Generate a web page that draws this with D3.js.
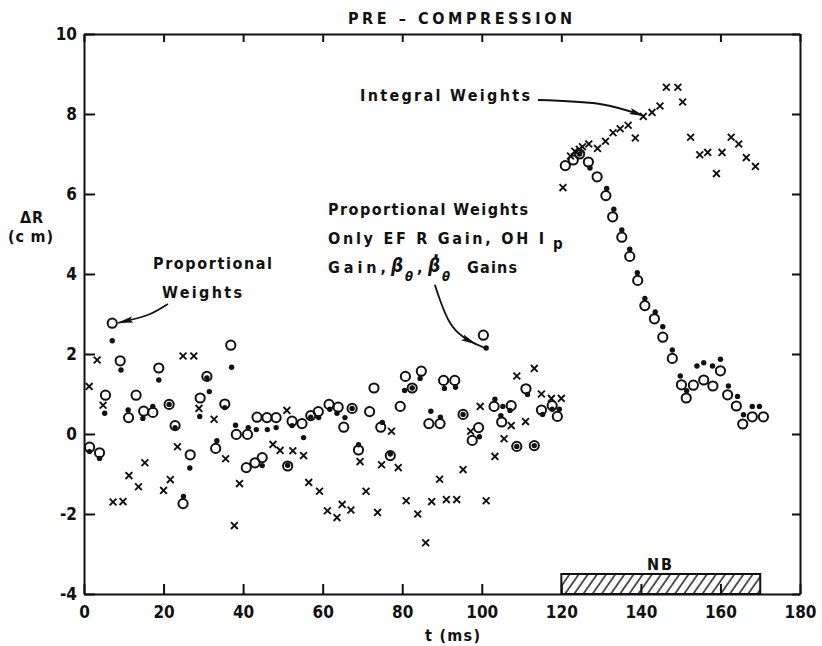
<!DOCTYPE html>
<html>
<head>
<meta charset="utf-8">
<script src="https://cdn.jsdelivr.net/npm/d3@7"></script>
<style>
  body { margin: 0; background: #fff; }
  svg { display: block; }
  text { font-family: "DejaVu Sans Condensed", "DejaVu Sans", sans-serif; font-weight: bold; fill: #111; }
</style>
</head>
<body>
<svg id="chart" width="822" height="646"></svg>
<script>
// ---- axes ----
const xTicks = [0, 20, 40, 60, 80, 100, 120, 140, 160, 180];
const xTickLabels = ["0", "20", "40", "60", "80", "100", "120", "140", "160", "180"];
const yTicks = [-4, -2, 0, 2, 4, 6, 8, 10];
const yTickLabels = ["-4", "-2", "0", "2", "4", "6", "8", "10"];

// ---- series: [t (ms), ΔR (cm)] ----
// Proportional weights (open circles)
const openCircles = [
  [1.4,-0.33],[3.9,-0.47],[5.4,0.97],[7.1,2.77],[9.1,1.83],[11.2,0.41],[13.1,0.97],[15.0,0.57],
  [17.3,0.54],[18.8,1.65],[21.4,0.74],[22.9,0.21],[24.9,-1.74],[26.7,-0.52],[29.2,0.90],[30.9,1.44],
  [33.1,-0.36],[35.4,0.75],[36.9,2.22],[38.3,-0.01],[40.8,-0.84],[41.1,-0.01],[43.0,-0.72],[43.5,0.42],
  [44.8,-0.59],[46.0,0.41],[48.3,0.41],[51.2,-0.80],[52.3,0.32],[54.8,0.26],[57.0,0.46],[58.9,0.56],
  [61.6,0.74],[63.9,0.67],[65.3,0.17],[67.4,0.64],[69.0,-0.40],[71.8,0.56],[72.9,1.15],[74.6,0.17],
  [77.0,-0.54],[79.5,0.69],[80.8,1.44],[82.5,1.15],[84.8,1.57],[86.7,0.26],[89.5,0.26],[90.4,1.34],
  [93.2,1.34],[95.3,0.49],[97.6,-0.16],[99.2,0.16],[100.4,2.47],[103.1,0.69],[105.0,0.30],[107.4,0.71],
  [108.8,-0.31],[111.1,1.13],[113.2,-0.29],[115.0,0.60],[117.7,0.71],[119.0,0.44],
  [121.0,6.71],[123.0,6.85],[124.6,7.00],[126.8,6.80],[129.0,6.43],[131.2,5.96],[132.9,5.43],[135.2,4.92],
  [137.2,4.44],[139.2,3.84],[141.0,3.21],[143.4,2.88],[145.5,2.42],[147.9,1.89],[150.2,1.23],[151.4,0.90],
  [153.2,1.22],[155.8,1.35],[158.1,1.20],[160.0,1.58],[161.8,0.98],[164.0,0.70],[165.6,0.25],[168.0,0.43],
  [170.8,0.43]
];
// Proportional weights, EF R / OH Ip / beta gains only (small dots)
const filledDots = [
  [1.4,-0.44],[3.9,-0.61],[5.2,0.52],[7.1,2.33],[9.3,1.60],[11.1,0.60],[14.8,0.39],[17.3,0.69],
  [18.8,1.35],[21.4,0.74],[22.9,0.16],[25.0,-1.56],[26.6,-0.85],[29.1,0.44],[30.9,1.40],[31.5,1.06],
  [33.4,-0.17],[35.4,0.66],[37.1,1.67],[38.1,0.22],[41.3,0.16],[43.3,0.11],[44.8,-0.79],[46.1,0.11],
  [48.3,0.16],[51.2,-0.78],[52.3,0.21],[55.2,-0.09],[57.0,0.42],[59.0,0.41],[61.8,0.62],[63.6,0.52],
  [65.6,0.41],[67.4,0.64],[69.0,-0.27],[75.0,0.29],[77.0,-0.50],[80.6,1.09],[82.5,1.15],[84.5,1.39],
  [87.2,0.57],[89.6,0.42],[90.6,1.14],[93.4,1.17],[95.3,0.49],[99.4,-0.07],[101.1,2.15],[103.3,0.87],
  [104.8,0.46],[105.3,0.69],[107.1,0.59],[108.8,-0.31],[111.5,0.99],[113.2,-0.29],[115.3,0.49],[117.7,0.62],
  [119.5,0.62],[124.6,7.00],[127.2,6.65],[131.4,6.14],[133.2,5.62],[135.2,5.10],[137.2,4.62],[139.1,4.03],
  [141.0,3.39],[143.6,3.05],[145.5,2.68],[147.9,2.10],[149.9,1.45],[151.5,1.08],[154.1,1.70],[155.8,1.78],
  [158.0,1.70],[160.0,1.87],[162.0,1.20],[164.3,0.94],[165.8,0.48],[168.0,0.69],[169.8,0.69]
];
// Integral weights (crosses)
const crosses = [
  [1.3,1.19],[3.3,1.85],[4.8,0.72],[7.3,-1.70],[9.8,-1.69],[11.3,-1.04],[13.7,-1.32],[15.3,-0.72],
  [20.0,-1.41],[21.7,-1.14],[23.5,-0.32],[24.9,1.95],[27.6,1.95],[28.9,0.64],[32.7,0.37],[35.6,-0.62],
  [37.8,-2.29],[39.1,-1.24],[47.5,-0.26],[49.3,-0.41],[51.0,0.59],[52.5,-0.42],[55.2,-0.54],[56.5,-1.21],
  [59.2,-1.43],[61.2,-1.92],[63.6,-2.09],[64.9,-1.76],[67.1,-1.90],[69.4,-0.69],[70.9,-1.43],[73.8,-1.96],
  [74.8,-0.77],[77.3,0.07],[79.0,-0.84],[81.0,-1.67],[83.9,-2.00],[85.9,-2.72],[87.4,-1.69],[89.4,-1.13],
  [91.1,-1.64],[93.7,-1.64],[95.3,-0.89],[97.2,0.07],[99.6,0.69],[101.1,-1.67],[103.3,-0.56],[105.6,-0.12],
  [107.4,0.21],[108.8,1.45],[111.0,0.31],[113.2,1.64],[115.0,1.00],[117.5,0.89],[120.0,0.89],
  [120.4,6.16],[122.3,6.95],[123.4,7.07],[124.5,7.12],[125.3,7.18],[126.9,7.25],[129.1,7.14],[131.1,7.32],
  [133.0,7.53],[134.8,7.63],[136.8,7.72],[138.6,7.40],[140.6,7.94],[142.8,8.04],[144.8,8.20],[146.4,8.67],
  [149.3,8.67],[150.5,8.30],[152.5,7.42],[154.8,6.98],[156.8,7.04],[159.0,6.51],[160.4,7.04],[162.7,7.42],
  [164.6,7.25],[166.5,6.91],[168.8,6.69]
];
// Neutral-beam injection window (ms)
const nbWindow = [120, 170];

// ---- layout ----
const svg = d3.select("#chart");
const ink = "#111";
const x = d3.scaleLinear().domain([0, 180]).range([84, 800]);
const y = d3.scaleLinear().domain([-4, 10]).range([594, 34]);

// hatch pattern for the NB bar
const defs = svg.append("defs");
const pat = defs.append("pattern")
  .attr("id", "hatch").attr("patternUnits", "userSpaceOnUse")
  .attr("width", 7.5).attr("height", 10)
  .attr("patternTransform", "rotate(35)");
pat.append("line").attr("x1", 1).attr("x2", 1).attr("y1", 0).attr("y2", 10)
  .attr("stroke", ink).attr("stroke-width", 1.4);

defs.append("marker")
  .attr("id", "arrow").attr("viewBox", "0 0 16 8")
  .attr("refX", 15).attr("refY", 4)
  .attr("markerWidth", 16).attr("markerHeight", 8)
  .attr("markerUnits", "userSpaceOnUse")
  .attr("orient", "auto")
  .append("path").attr("d", "M0,0.8 L16,4 L0,7.2 L3,4 Z").attr("fill", ink);

// axes
function styleAxis(g) {
  g.select(".domain").attr("stroke", ink).attr("stroke-width", 2);
  g.selectAll(".tick line").attr("stroke", ink).attr("stroke-width", 2);
  g.selectAll(".tick text").attr("fill", ink)
    .style("font-family", "'DejaVu Sans Condensed','DejaVu Sans',sans-serif")
    .style("font-weight", "bold")
    .style("font-size", "17px");
}

svg.append("g").attr("transform", `translate(0,${y(-4)})`)
  .call(d3.axisBottom(x).tickValues(xTicks).tickFormat((d, i) => xTickLabels[i])
    .tickSizeInner(-10).tickSizeOuter(0).tickPadding(12))
  .call(styleAxis);
svg.append("g").attr("transform", `translate(0,${y(10)})`)
  .call(d3.axisTop(x).tickValues(xTicks).tickFormat("")
    .tickSizeInner(-8).tickSizeOuter(0))
  .call(styleAxis);
svg.append("g").attr("transform", `translate(${x(0)},0)`)
  .call(d3.axisLeft(y).tickValues(yTicks).tickFormat((d, i) => yTickLabels[i])
    .tickSizeInner(-11).tickSizeOuter(0).tickPadding(7))
  .call(styleAxis);
svg.append("g").attr("transform", `translate(${x(180)},0)`)
  .call(d3.axisRight(y).tickValues(yTicks).tickFormat("")
    .tickSizeInner(-8).tickSizeOuter(0))
  .call(styleAxis);

// NB bar
svg.append("rect")
  .attr("x", x(nbWindow[0])).attr("y", y(-3.5))
  .attr("width", x(nbWindow[1]) - x(nbWindow[0])).attr("height", y(-4) - y(-3.5))
  .attr("fill", "url(#hatch)").attr("stroke", ink).attr("stroke-width", 2);

// markers
const marks = svg.append("g");
marks.selectAll("circle.open").data(openCircles).join("circle")
  .attr("class", "open")
  .attr("cx", d => x(d[0])).attr("cy", d => y(d[1])).attr("r", 4.6)
  .attr("fill", "none").attr("stroke", ink).attr("stroke-width", 2);
marks.selectAll("circle.dot").data(filledDots).join("circle")
  .attr("class", "dot")
  .attr("cx", d => x(d[0])).attr("cy", d => y(d[1])).attr("r", 2.7)
  .attr("fill", ink);
const cs = 3.4;
marks.selectAll("path.cross").data(crosses).join("path")
  .attr("class", "cross")
  .attr("d", d => {
    const px = x(d[0]), py = y(d[1]);
    return `M${px - cs},${py - cs}L${px + cs},${py + cs}M${px - cs},${py + cs}L${px + cs},${py - cs}`;
  })
  .attr("stroke", ink).attr("stroke-width", 1.9).attr("fill", "none");

// annotation arrows (data coordinates)
const curve = d3.line().x(d => x(d[0])).y(d => y(d[1])).curve(d3.curveNatural);
function arrow(pts) {
  svg.append("path").attr("d", curve(pts))
    .attr("fill", "none").attr("stroke", ink).attr("stroke-width", 1.8)
    .attr("marker-end", "url(#arrow)");
}
arrow([[114.1, 8.35], [129.7, 8.25], [140.8, 7.95]]);
arrow([[21.1, 3.25], [16.6, 3.0], [11.6, 2.85], [8.6, 2.78]]);
arrow([[88.2, 3.73], [89.5, 3.35], [92.0, 2.78], [95.3, 2.43], [98.5, 2.25]]);
svg.append("path").attr("d", d3.line().x(d => x(d[0])).y(d => y(d[1]))([[98.0, 2.27], [100.8, 2.15]]))
  .attr("stroke", ink).attr("stroke-width", 1.8);

// text
function label(txt, px, py, size, len, anchor) {
  const t = svg.append("text").attr("x", px).attr("y", py)
    .style("font-size", size + "px").text(txt);
  if (len) t.attr("textLength", len).attr("lengthAdjust", "spacing");
  if (anchor) t.attr("text-anchor", anchor);
  return t;
}
label("PRE – COMPRESSION", 348, 24, 16, 224);
label("ΔR", 20, 223, 16, 23);
label("(c m)", 8, 242, 16, 45);
label("Integral  Weights", 360, 101, 16, 170);
label("Proportional", 153, 269, 16, 119);
label("Weights", 162, 298, 16, 80);
label("Proportional  Weights", 328, 215, 16, 200);
label("Only  EF  R  Gain, OH  I", 328, 244, 16, 216);
label("p", 553, 249, 15);
label("Gain,", 328, 273, 16, 58);
label("β", 391, 272, 19).style("font-style", "italic");
label("θ", 405, 281, 13).style("font-style", "italic");
label(",", 417, 273, 16);
label("β\u0307", 428, 272, 19).style("font-style", "italic");
label("θ", 442, 281, 13).style("font-style", "italic");
label("Gains", 467, 273, 16, 50);
label("NB", 647, 570, 16, 25);
label("t (ms)", 425, 641, 16, 55);
</script>
</body>
</html>
